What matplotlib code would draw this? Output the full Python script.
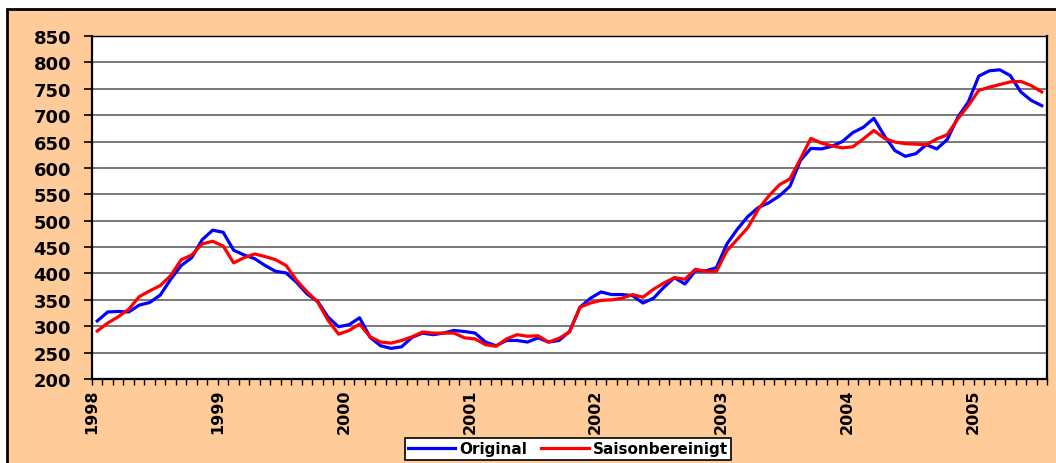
import matplotlib
matplotlib.use("Agg")
import matplotlib.pyplot as plt
import numpy as np
from matplotlib.patches import Rectangle

# --------------------------------------------------------------------------------------------------------------------
#                                           Data (monthly, Jan 1998 - Jul 2005)
# --------------------------------------------------------------------------------------------------------------------
years = ['1998', '1999', '2000', '2001', '2002', '2003', '2004', '2005']

original = [
    310, 327, 328, 327, 340, 345, 359, 389, 415, 430, 464, 482,
    478, 444, 435, 428, 415, 404, 401, 383, 361, 347, 317, 299,
    303, 316, 279, 263, 258, 261, 279, 287, 284, 287, 292, 290,
    287, 270, 263, 273, 273, 270, 278, 270, 273, 290, 336, 353,
    365, 360, 360, 358, 344, 353, 374, 392, 380, 405, 405, 411,
    456, 484, 508, 525, 534, 547, 565, 614, 637, 636, 641, 650,
    667, 677, 694, 661, 633, 622, 627, 644, 636, 654, 696, 725,
    774, 784, 786, 775, 744, 728, 718,
]

saisonbereinigt = [
    291, 306, 318, 332, 356, 367, 377, 396, 426, 435, 456, 461,
    452, 420, 430, 437, 432, 426, 415, 387, 365, 346, 311, 285,
    292, 304, 280, 270, 268, 273, 280, 289, 287, 287, 287, 278,
    276, 265, 262, 276, 284, 281, 282, 270, 277, 289, 336, 344,
    349, 350, 353, 360, 355, 370, 382, 392, 389, 408, 404, 404,
    443, 465, 487, 522, 547, 568, 579, 617, 656, 647, 642, 638,
    640, 655, 671, 656, 649, 646, 645, 644, 655, 663, 693, 718,
    747, 753, 758, 763, 764, 756, 744,
]

# --------------------------------------------------------------------------------------------------------------------
#                                           Figure
# --------------------------------------------------------------------------------------------------------------------
fig = plt.figure(figsize=(10.56, 4.64), dpi=100, facecolor='white')

# peach background panel with black border
fig.patches.append(Rectangle((7 / 1056, -0.05), 1.05, 1 - 10 / 464 + 0.05,
                             transform=fig.transFigure, facecolor='#FFCC99',
                             edgecolor='black', linewidth=2, zorder=-5))

ax = fig.add_axes([92 / 1056, 1 - 380 / 464, (1047 - 92) / 1056, (380 - 37) / 464])
ax.set_zorder(1)
ax.set_facecolor('white')

n = len(original)
x = np.arange(n) + 0.5  # category axis: points sit between month ticks

ax.plot(x, original, color='#0000FF', lw=2.3, label='Original', zorder=3)
ax.plot(x, saisonbereinigt, color='#FF0000', lw=2.3, label='Saisonbereinigt', zorder=4)

ax.set_xlim(0, n)
ax.set_ylim(200, 850)

# y axis
ax.set_yticks(np.arange(200, 851, 50))
ax.yaxis.grid(True, color='#555555', lw=1.1)
ax.set_axisbelow(True)
ax.tick_params(axis='y', direction='out', length=6, width=1.2, pad=9,
               labelsize=13)
for lbl in ax.get_yticklabels():
    lbl.set_fontweight('bold')
    lbl.set_family('DejaVu Sans')

# x axis: a tick for every month, year labels at January
ax.set_xticks(np.arange(0, n + 1), minor=True)
ax.set_xticks(np.arange(0, n, 12))
ax.set_xticklabels(years, rotation=90, fontweight='bold', fontsize=11.5,
                   family='DejaVu Sans')
ax.tick_params(axis='x', which='both', direction='out', length=4, width=1.0, pad=3)

for side in ['left', 'bottom', 'top', 'right']:
    ax.spines[side].set_color('black')
ax.spines['left'].set_linewidth(1.6)
ax.spines['bottom'].set_linewidth(1.6)
ax.spines['top'].set_linewidth(1.0)
ax.spines['right'].set_linewidth(1.6)

leg = fig.legend(loc='center', bbox_to_anchor=(568 / 1056, 1 - 450 / 464), ncol=2,
                 fancybox=False, shadow=False, framealpha=1, edgecolor='black',
                 prop={'weight': 'bold', 'size': 11, 'family': 'DejaVu Sans'},
                 handlelength=3.1, handletextpad=0.3, columnspacing=0.9,
                 borderpad=0.2, borderaxespad=0)
leg.get_frame().set_linewidth(1.2)
leg.set_zorder(2)

fig.savefig('out.png', dpi=100, facecolor=fig.get_facecolor())
